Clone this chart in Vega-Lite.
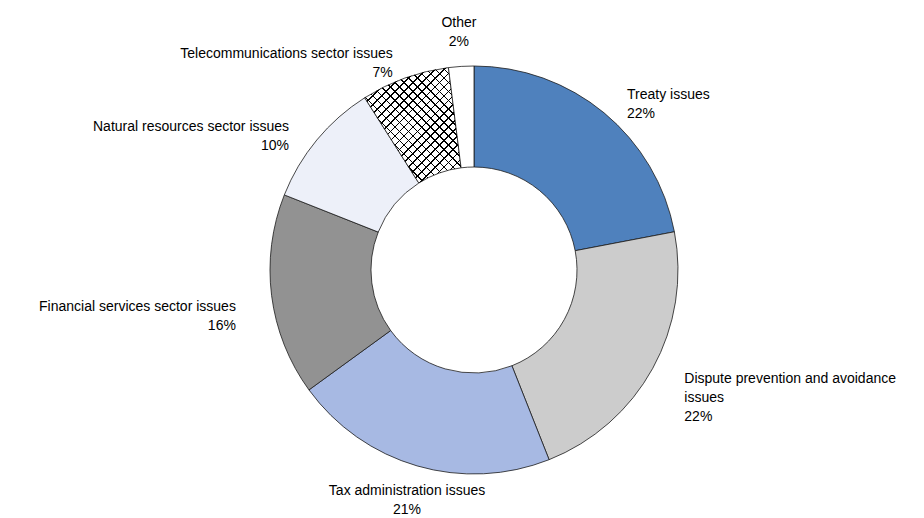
{
  "$schema": "https://vega.github.io/schema/vega-lite/v6.json",
  "autosize": "none",
  "width": 900,
  "height": 496,
  "padding": {"left": 24, "top": 22, "right": 0, "bottom": 0},
  "background": "white",
  "config": {"view": {"stroke": null}},
  "data": {
    "values": [
      {"rank": 1, "category": "Treaty issues", "label": "Treaty issues\n22%", "value": 22},
      {"rank": 2, "category": "Dispute prevention and avoidance issues", "label": "Dispute prevention and avoidance\nissues\n22%", "value": 22},
      {"rank": 3, "category": "Tax administration issues", "label": "Tax administration issues\n21%", "value": 21},
      {"rank": 4, "category": "Financial services sector issues", "label": "Financial services sector issues\n16%", "value": 16},
      {"rank": 5, "category": "Natural resources sector issues", "label": "Natural resources sector issues\n10%", "value": 10},
      {"rank": 6, "category": "Telecommunications sector issues", "label": "Telecommunications sector issues\n7%", "value": 7},
      {"rank": 7, "category": "Other", "label": "Other\n2%", "value": 2}
    ]
  },
  "encoding": {
    "theta": {"field": "value", "type": "quantitative", "stack": true},
    "order": {"field": "rank", "type": "quantitative"}
  },
  "layer": [
    {
      "mark": {"type": "arc", "radius": 204, "innerRadius": 103, "stroke": "#1a1a1a", "strokeWidth": 0.8},
      "encoding": {
        "color": {
          "field": "category",
          "type": "nominal",
          "legend": null,
          "scale": {
            "domain": ["Treaty issues", "Dispute prevention and avoidance issues", "Tax administration issues", "Financial services sector issues", "Natural resources sector issues", "Telecommunications sector issues", "Other"],
            "range": ["#4f81bd", "#cccccc", "#a7b9e3", "#929292", "#edf0f9", "#ffffff", "#ffffff"]
          }
        }
      }
    },
    {
      "mark": {"type": "arc", "radius": 204, "innerRadius": 103, "strokeWidth": 0},
      "encoding": {
        "detail": {"field": "category", "type": "nominal"},
        "fill": {
          "condition": {
            "test": "datum.category == 'Telecommunications sector issues'",
            "value": {"gradient": "linear", "x1": 0, "y1": 0, "x2": 0.835, "y2": 1, "stops": [
              {"offset": 0, "color": "#000"}, {"offset": 0.008, "color": "#000"}, {"offset": 0.008, "color": "rgba(0,0,0,0)"}, {"offset": 0.0455, "color": "rgba(0,0,0,0)"},
              {"offset": 0.0455, "color": "#000"}, {"offset": 0.0535, "color": "#000"}, {"offset": 0.0535, "color": "rgba(0,0,0,0)"}, {"offset": 0.0909, "color": "rgba(0,0,0,0)"},
              {"offset": 0.0909, "color": "#000"}, {"offset": 0.0989, "color": "#000"}, {"offset": 0.0989, "color": "rgba(0,0,0,0)"}, {"offset": 0.1364, "color": "rgba(0,0,0,0)"},
              {"offset": 0.1364, "color": "#000"}, {"offset": 0.1444, "color": "#000"}, {"offset": 0.1444, "color": "rgba(0,0,0,0)"}, {"offset": 0.1818, "color": "rgba(0,0,0,0)"},
              {"offset": 0.1818, "color": "#000"}, {"offset": 0.1898, "color": "#000"}, {"offset": 0.1898, "color": "rgba(0,0,0,0)"}, {"offset": 0.2273, "color": "rgba(0,0,0,0)"},
              {"offset": 0.2273, "color": "#000"}, {"offset": 0.2353, "color": "#000"}, {"offset": 0.2353, "color": "rgba(0,0,0,0)"}, {"offset": 0.2727, "color": "rgba(0,0,0,0)"},
              {"offset": 0.2727, "color": "#000"}, {"offset": 0.2807, "color": "#000"}, {"offset": 0.2807, "color": "rgba(0,0,0,0)"}, {"offset": 0.3182, "color": "rgba(0,0,0,0)"},
              {"offset": 0.3182, "color": "#000"}, {"offset": 0.3262, "color": "#000"}, {"offset": 0.3262, "color": "rgba(0,0,0,0)"}, {"offset": 0.3636, "color": "rgba(0,0,0,0)"},
              {"offset": 0.3636, "color": "#000"}, {"offset": 0.3716, "color": "#000"}, {"offset": 0.3716, "color": "rgba(0,0,0,0)"}, {"offset": 0.4091, "color": "rgba(0,0,0,0)"},
              {"offset": 0.4091, "color": "#000"}, {"offset": 0.4171, "color": "#000"}, {"offset": 0.4171, "color": "rgba(0,0,0,0)"}, {"offset": 0.4545, "color": "rgba(0,0,0,0)"},
              {"offset": 0.4545, "color": "#000"}, {"offset": 0.4625, "color": "#000"}, {"offset": 0.4625, "color": "rgba(0,0,0,0)"}, {"offset": 0.5, "color": "rgba(0,0,0,0)"},
              {"offset": 0.5, "color": "#000"}, {"offset": 0.508, "color": "#000"}, {"offset": 0.508, "color": "rgba(0,0,0,0)"}, {"offset": 0.5455, "color": "rgba(0,0,0,0)"},
              {"offset": 0.5455, "color": "#000"}, {"offset": 0.5535, "color": "#000"}, {"offset": 0.5535, "color": "rgba(0,0,0,0)"}, {"offset": 0.5909, "color": "rgba(0,0,0,0)"},
              {"offset": 0.5909, "color": "#000"}, {"offset": 0.5989, "color": "#000"}, {"offset": 0.5989, "color": "rgba(0,0,0,0)"}, {"offset": 0.6364, "color": "rgba(0,0,0,0)"},
              {"offset": 0.6364, "color": "#000"}, {"offset": 0.6444, "color": "#000"}, {"offset": 0.6444, "color": "rgba(0,0,0,0)"}, {"offset": 0.6818, "color": "rgba(0,0,0,0)"},
              {"offset": 0.6818, "color": "#000"}, {"offset": 0.6898, "color": "#000"}, {"offset": 0.6898, "color": "rgba(0,0,0,0)"}, {"offset": 0.7273, "color": "rgba(0,0,0,0)"},
              {"offset": 0.7273, "color": "#000"}, {"offset": 0.7353, "color": "#000"}, {"offset": 0.7353, "color": "rgba(0,0,0,0)"}, {"offset": 0.7727, "color": "rgba(0,0,0,0)"},
              {"offset": 0.7727, "color": "#000"}, {"offset": 0.7807, "color": "#000"}, {"offset": 0.7807, "color": "rgba(0,0,0,0)"}, {"offset": 0.8182, "color": "rgba(0,0,0,0)"},
              {"offset": 0.8182, "color": "#000"}, {"offset": 0.8262, "color": "#000"}, {"offset": 0.8262, "color": "rgba(0,0,0,0)"}, {"offset": 0.8636, "color": "rgba(0,0,0,0)"},
              {"offset": 0.8636, "color": "#000"}, {"offset": 0.8716, "color": "#000"}, {"offset": 0.8716, "color": "rgba(0,0,0,0)"}, {"offset": 0.9091, "color": "rgba(0,0,0,0)"},
              {"offset": 0.9091, "color": "#000"}, {"offset": 0.9171, "color": "#000"}, {"offset": 0.9171, "color": "rgba(0,0,0,0)"}, {"offset": 0.9545, "color": "rgba(0,0,0,0)"},
              {"offset": 0.9545, "color": "#000"}, {"offset": 0.9625, "color": "#000"}, {"offset": 0.9625, "color": "rgba(0,0,0,0)"}, {"offset": 1, "color": "rgba(0,0,0,0)"}
            ]}
          },
          "value": "transparent"
        }
      }
    },
    {
      "mark": {"type": "arc", "radius": 204, "innerRadius": 103, "strokeWidth": 0},
      "encoding": {
        "detail": {"field": "category", "type": "nominal"},
        "fill": {
          "condition": {
            "test": "datum.category == 'Telecommunications sector issues'",
            "value": {"gradient": "linear", "x1": 1, "y1": 0, "x2": 0.165, "y2": 1, "stops": [
              {"offset": 0, "color": "#000"}, {"offset": 0.008, "color": "#000"}, {"offset": 0.008, "color": "rgba(0,0,0,0)"}, {"offset": 0.0455, "color": "rgba(0,0,0,0)"},
              {"offset": 0.0455, "color": "#000"}, {"offset": 0.0535, "color": "#000"}, {"offset": 0.0535, "color": "rgba(0,0,0,0)"}, {"offset": 0.0909, "color": "rgba(0,0,0,0)"},
              {"offset": 0.0909, "color": "#000"}, {"offset": 0.0989, "color": "#000"}, {"offset": 0.0989, "color": "rgba(0,0,0,0)"}, {"offset": 0.1364, "color": "rgba(0,0,0,0)"},
              {"offset": 0.1364, "color": "#000"}, {"offset": 0.1444, "color": "#000"}, {"offset": 0.1444, "color": "rgba(0,0,0,0)"}, {"offset": 0.1818, "color": "rgba(0,0,0,0)"},
              {"offset": 0.1818, "color": "#000"}, {"offset": 0.1898, "color": "#000"}, {"offset": 0.1898, "color": "rgba(0,0,0,0)"}, {"offset": 0.2273, "color": "rgba(0,0,0,0)"},
              {"offset": 0.2273, "color": "#000"}, {"offset": 0.2353, "color": "#000"}, {"offset": 0.2353, "color": "rgba(0,0,0,0)"}, {"offset": 0.2727, "color": "rgba(0,0,0,0)"},
              {"offset": 0.2727, "color": "#000"}, {"offset": 0.2807, "color": "#000"}, {"offset": 0.2807, "color": "rgba(0,0,0,0)"}, {"offset": 0.3182, "color": "rgba(0,0,0,0)"},
              {"offset": 0.3182, "color": "#000"}, {"offset": 0.3262, "color": "#000"}, {"offset": 0.3262, "color": "rgba(0,0,0,0)"}, {"offset": 0.3636, "color": "rgba(0,0,0,0)"},
              {"offset": 0.3636, "color": "#000"}, {"offset": 0.3716, "color": "#000"}, {"offset": 0.3716, "color": "rgba(0,0,0,0)"}, {"offset": 0.4091, "color": "rgba(0,0,0,0)"},
              {"offset": 0.4091, "color": "#000"}, {"offset": 0.4171, "color": "#000"}, {"offset": 0.4171, "color": "rgba(0,0,0,0)"}, {"offset": 0.4545, "color": "rgba(0,0,0,0)"},
              {"offset": 0.4545, "color": "#000"}, {"offset": 0.4625, "color": "#000"}, {"offset": 0.4625, "color": "rgba(0,0,0,0)"}, {"offset": 0.5, "color": "rgba(0,0,0,0)"},
              {"offset": 0.5, "color": "#000"}, {"offset": 0.508, "color": "#000"}, {"offset": 0.508, "color": "rgba(0,0,0,0)"}, {"offset": 0.5455, "color": "rgba(0,0,0,0)"},
              {"offset": 0.5455, "color": "#000"}, {"offset": 0.5535, "color": "#000"}, {"offset": 0.5535, "color": "rgba(0,0,0,0)"}, {"offset": 0.5909, "color": "rgba(0,0,0,0)"},
              {"offset": 0.5909, "color": "#000"}, {"offset": 0.5989, "color": "#000"}, {"offset": 0.5989, "color": "rgba(0,0,0,0)"}, {"offset": 0.6364, "color": "rgba(0,0,0,0)"},
              {"offset": 0.6364, "color": "#000"}, {"offset": 0.6444, "color": "#000"}, {"offset": 0.6444, "color": "rgba(0,0,0,0)"}, {"offset": 0.6818, "color": "rgba(0,0,0,0)"},
              {"offset": 0.6818, "color": "#000"}, {"offset": 0.6898, "color": "#000"}, {"offset": 0.6898, "color": "rgba(0,0,0,0)"}, {"offset": 0.7273, "color": "rgba(0,0,0,0)"},
              {"offset": 0.7273, "color": "#000"}, {"offset": 0.7353, "color": "#000"}, {"offset": 0.7353, "color": "rgba(0,0,0,0)"}, {"offset": 0.7727, "color": "rgba(0,0,0,0)"},
              {"offset": 0.7727, "color": "#000"}, {"offset": 0.7807, "color": "#000"}, {"offset": 0.7807, "color": "rgba(0,0,0,0)"}, {"offset": 0.8182, "color": "rgba(0,0,0,0)"},
              {"offset": 0.8182, "color": "#000"}, {"offset": 0.8262, "color": "#000"}, {"offset": 0.8262, "color": "rgba(0,0,0,0)"}, {"offset": 0.8636, "color": "rgba(0,0,0,0)"},
              {"offset": 0.8636, "color": "#000"}, {"offset": 0.8716, "color": "#000"}, {"offset": 0.8716, "color": "rgba(0,0,0,0)"}, {"offset": 0.9091, "color": "rgba(0,0,0,0)"},
              {"offset": 0.9091, "color": "#000"}, {"offset": 0.9171, "color": "#000"}, {"offset": 0.9171, "color": "rgba(0,0,0,0)"}, {"offset": 0.9545, "color": "rgba(0,0,0,0)"},
              {"offset": 0.9545, "color": "#000"}, {"offset": 0.9625, "color": "#000"}, {"offset": 0.9625, "color": "rgba(0,0,0,0)"}, {"offset": 1, "color": "rgba(0,0,0,0)"}
            ]}
          },
          "value": "transparent"
        }
      }
    },
    {
      "mark": {
        "type": "text",
        "radius": 240,
        "font": "Liberation Sans, Arial, sans-serif",
        "fontSize": 14,
        "lineHeight": 19,
        "lineBreak": "\n",
        "color": "#000",
        "baseline": {"expr": "datum.category == 'Treaty issues' || datum.category == 'Natural resources sector issues' || datum.category == 'Telecommunications sector issues' ? 'line-top' : (datum.category == 'Financial services sector issues' ? 'top' : (datum.category == 'Tax administration issues' ? 'line-bottom' : 'bottom'))"},
        "align": {"expr": "datum.category == 'Treaty issues' || datum.category == 'Dispute prevention and avoidance issues' ? 'left' : (datum.category == 'Other' || datum.category == 'Tax administration issues' ? 'center' : 'right')"}
      },
      "encoding": {
        "detail": {"field": "category", "type": "nominal"},
        "text": {"field": "label", "type": "nominal"}
      }
    }
  ]
}
